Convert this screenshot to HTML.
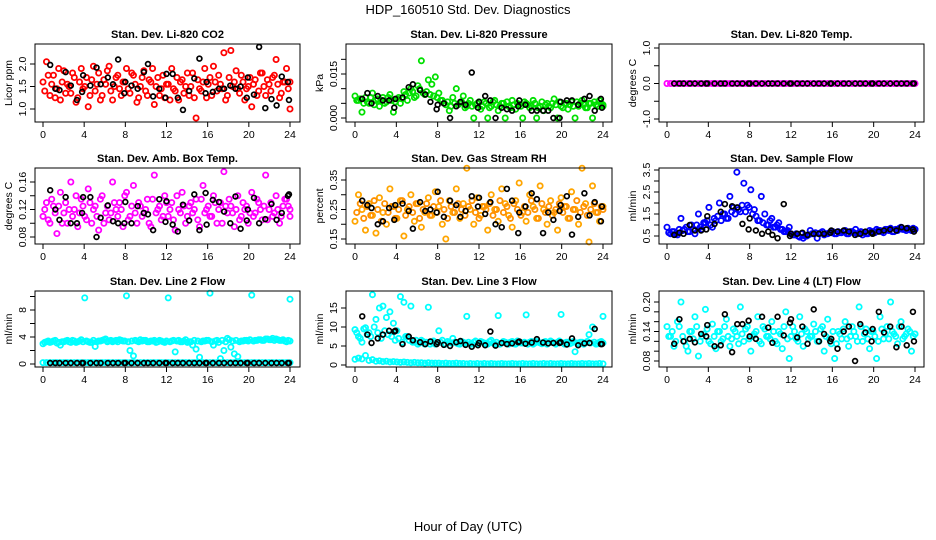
<!DOCTYPE html>
<html><head><meta charset="utf-8"><style>
html,body{margin:0;padding:0;background:#fff;}
svg{display:block;font-family:"Liberation Sans",sans-serif;}
</style></head><body>
<svg id="c" width="936" height="540" viewBox="0 0 936 540">
<text x="468" y="14" text-anchor="middle" font-size="13">HDP_160510  Std. Dev. Diagnostics</text>
<text x="468" y="531" text-anchor="middle" font-size="13">Hour of Day (UTC)</text>
</svg>
<script>
const bx=[0.7,1.2,1.6,2.2,2.7,3.3,3.8,3.9,4.6,5.2,5.6,6.3,6.8,7.3,7.9,8.0,8.6,9.2,9.8,10.2,10.7,11.3,11.9,12.0,12.6,13.1,13.6,14.2,14.7,15.2,15.8,15.9,16.5,17.1,17.6,18.2,18.7,19.2,19.8,19.9,20.5,21.0,21.6,22.2,22.7,23.2,23.8,23.9];
const co2=[1.6,2.05,1.3,1.75,1.45,1.2,1.85,1.55,1.35,1.7,1.25,1.9,1.5,1.05,1.65,1.4,1.8,1.3,1.55,1.95,1.2,1.7,1.45,1.6,1.9,1.35,1.75,1.15,1.5,1.85,1.3,1.6,1.1,1.7,1.45,1.25,1.55,1.9,1.4,1.2,1.65,1.5,1.3,1.8,0.8,1.45,1.6,1.25,1.7,1.95,1.4,1.55,2.25,1.3,2.3,1.6,1.45,1.75,1.2,1.5,1.05,1.65,1.4,1.8,1.3,1.55,1.7,2.1,1.25,1.6,1.9,1.0];
const co2b=[1.4,1.75,1.55,1.25,1.9,1.6,1.35,1.5,1.8,1.15,1.6,1.45,1.7,1.3,1.95,1.55,1.2,1.65,1.85,1.4,1.5,1.75,1.3,1.6,1.45,1.8,1.55,1.25,1.7,1.4,1.65,1.9,1.5,1.3,1.75,1.55,1.2,1.45,1.7,1.6,1.35,1.8,1.5,1.25,1.65,1.4,1.9,1.55,1.3,1.6,1.75,1.45,1.2,1.7,1.5,1.85,1.35,1.6,1.45,1.7,1.55,1.3,1.8,1.5,1.65,1.4,1.75,1.55,1.35,1.6,1.45,1.6];
const co2Blk=[1.98,1.45,1.42,1.82,1.52,1.2,1.38,1.75,1.52,1.92,1.55,1.7,1.55,2.1,1.35,1.6,1.52,1.45,1.82,2.0,1.28,1.45,1.25,1.78,1.78,1.25,0.98,1.4,1.68,2.12,1.35,1.6,1.38,1.45,1.45,1.52,1.45,1.5,1.25,1.7,1.32,2.38,1.02,1.22,1.08,1.72,1.6,1.2];
const pres=[0.0075,0.006,0.002,0.007,0.005,0.0085,0.006,0.004,0.007,0.0055,0.008,0.002,0.0065,0.005,0.009,0.006,0.01,0.007,0.011,0.0195,0.008,0.013,0.0115,0.014,0.0085,0.006,0.0045,0.0025,0.007,0.01,0.005,0.0075,0.004,0.006,0.0,0.005,0.003,0.0055,0.0,0.004,0.006,0.0025,0.005,0.0,0.004,0.006,0.003,0.0045,0.0,0.005,0.0035,0.006,0.0,0.004,0.0025,0.005,0.0035,0.0065,0.0,0.004,0.005,0.003,0.0055,0.0,0.004,0.006,0.0035,0.005,0.0,0.0045,0.006,0.004];
const presb=[0.006,0.0065,0.005,0.0055,0.007,0.0045,0.0065,0.006,0.005,0.007,0.006,0.0055,0.007,0.0065,0.008,0.0085,0.009,0.0075,0.01,0.0085,0.009,0.008,0.0075,0.007,0.006,0.005,0.0055,0.004,0.005,0.0045,0.0055,0.0035,0.005,0.004,0.0045,0.0055,0.004,0.005,0.0035,0.0055,0.0045,0.004,0.005,0.0055,0.0035,0.0045,0.005,0.004,0.0055,0.0045,0.004,0.005,0.0035,0.0055,0.0045,0.004,0.005,0.0045,0.0055,0.0035,0.005,0.0045,0.004,0.0055,0.005,0.0045,0.0035,0.005,0.0055,0.004,0.005,0.0045];
const presBlk=[0.0065,0.0085,0.005,0.0075,0.006,0.006,0.0035,0.0065,0.007,0.0105,0.0115,0.0095,0.008,0.0055,0.003,0.0045,0.005,0.0,0.004,0.0055,0.0045,0.0155,0.0035,0.0055,0.0075,0.006,0.0,0.0035,0.003,0.0025,0.004,0.006,0.0045,0.0025,0.0025,0.0025,0.0025,0.0,0.0,0.0055,0.006,0.006,0.0045,0.0065,0.0075,0.0025,0.0065,0.0035];
const ltemp=[0,0,0,0,0,0,0,0,0,0,0,0,0,0,0,0,0,0,0,0,0,0,0,0,0,0,0,0,0,0,0,0,0,0,0,0,0,0,0,0,0,0,0,0,0,0,0,0,0,0,0,0,0,0,0,0,0,0,0,0,0,0,0,0,0,0,0,0,0,0,0,0];
const ltempBlk=[0,0,0,0,0,0,0,0,0,0,0,0,0,0,0,0,0,0,0,0,0,0,0,0,0,0,0,0,0,0,0,0,0,0,0,0,0,0,0,0,0,0,0,0,0,0,0,0];
const amb=[0.11,0.13,0.1,0.125,0.085,0.145,0.115,0.1,0.16,0.12,0.095,0.135,0.11,0.15,0.1,0.125,0.09,0.14,0.115,0.105,0.16,0.12,0.13,0.095,0.145,0.11,0.155,0.1,0.125,0.115,0.135,0.095,0.17,0.12,0.105,0.14,0.11,0.13,0.09,0.12,0.145,0.1,0.125,0.115,0.135,0.095,0.155,0.12,0.11,0.14,0.1,0.13,0.175,0.115,0.125,0.095,0.14,0.11,0.12,0.1,0.145,0.115,0.13,0.105,0.17,0.12,0.11,0.14,0.1,0.125,0.135,0.11];
const ambb=[0.12,0.105,0.135,0.115,0.125,0.1,0.13,0.12,0.11,0.14,0.115,0.125,0.105,0.13,0.12,0.11,0.135,0.1,0.125,0.115,0.13,0.11,0.12,0.14,0.105,0.125,0.115,0.13,0.11,0.12,0.1,0.135,0.115,0.125,0.11,0.13,0.12,0.105,0.14,0.115,0.125,0.11,0.13,0.12,0.105,0.135,0.115,0.125,0.11,0.13,0.12,0.1,0.125,0.135,0.115,0.12,0.105,0.13,0.125,0.115,0.11,0.135,0.12,0.125,0.105,0.13,0.115,0.12,0.11,0.135,0.125,0.12];
const ambBlk=[0.148,0.12,0.105,0.138,0.1,0.1,0.115,0.138,0.138,0.08,0.108,0.126,0.103,0.1,0.1,0.131,0.1,0.125,0.115,0.113,0.09,0.135,0.102,0.132,0.098,0.088,0.127,0.104,0.142,0.09,0.144,0.098,0.134,0.131,0.117,0.1,0.139,0.092,0.104,0.12,0.137,0.1,0.106,0.128,0.105,0.115,0.14,0.142];
const rh=[0.21,0.3,0.25,0.18,0.27,0.23,0.17,0.29,0.24,0.2,0.32,0.26,0.22,0.28,0.16,0.25,0.3,0.21,0.27,0.19,0.24,0.29,0.23,0.31,0.26,0.2,0.15,0.28,0.24,0.32,0.22,0.27,0.39,0.25,0.2,0.29,0.23,0.26,0.18,0.3,0.25,0.21,0.32,0.27,0.23,0.19,0.28,0.34,0.24,0.21,0.3,0.26,0.22,0.33,0.25,0.2,0.28,0.24,0.18,0.29,0.26,0.22,0.31,0.25,0.2,0.39,0.27,0.14,0.33,0.24,0.21,0.26];
const rhb=[0.24,0.27,0.22,0.26,0.23,0.28,0.25,0.21,0.27,0.24,0.26,0.22,0.25,0.28,0.23,0.26,0.24,0.27,0.22,0.25,0.27,0.23,0.26,0.24,0.28,0.25,0.22,0.26,0.24,0.27,0.25,0.23,0.26,0.28,0.24,0.22,0.26,0.25,0.27,0.23,0.25,0.28,0.24,0.26,0.22,0.27,0.25,0.23,0.26,0.24,0.28,0.25,0.22,0.27,0.24,0.26,0.23,0.25,0.27,0.24,0.26,0.22,0.25,0.28,0.24,0.26,0.23,0.25,0.27,0.24,0.26,0.25];
const rhBlk=[0.28,0.265,0.255,0.2,0.21,0.255,0.215,0.265,0.27,0.245,0.185,0.275,0.245,0.25,0.24,0.31,0.225,0.28,0.265,0.225,0.245,0.295,0.26,0.29,0.235,0.275,0.2,0.19,0.32,0.28,0.17,0.24,0.26,0.305,0.285,0.17,0.24,0.215,0.245,0.265,0.295,0.165,0.225,0.305,0.23,0.275,0.21,0.26];
const sflow=[0.9,0.6,0.7,0.55,1.3,0.8,0.7,1.0,0.6,1.5,0.8,1.1,1.8,0.9,1.2,2.0,1.5,1.3,2.3,1.8,3.4,1.6,2.9,1.9,2.6,1.7,1.2,2.3,1.5,1.0,1.3,0.9,1.1,0.8,0.7,0.9,0.55,0.6,0.45,0.4,0.5,0.75,0.6,0.4,0.65,0.55,0.6,0.65,0.6,0.7,0.65,0.75,0.6,0.7,0.8,0.65,0.55,0.6,0.75,0.7,0.8,0.75,0.65,0.8,0.85,0.7,0.75,0.9,0.8,0.85,0.75,0.8];
const sflowb=[0.65,0.7,0.6,0.8,0.75,0.9,0.7,0.8,1.0,0.9,1.1,1.2,1.0,1.3,1.4,1.2,1.5,1.3,1.6,1.5,1.7,1.9,1.6,1.8,1.5,1.4,1.2,1.1,1.0,1.2,0.9,1.0,0.8,0.7,0.75,0.6,0.55,0.5,0.6,0.5,0.55,0.6,0.65,0.6,0.7,0.6,0.65,0.7,0.6,0.65,0.7,0.6,0.7,0.65,0.6,0.7,0.65,0.6,0.7,0.65,0.75,0.7,0.8,0.75,0.7,0.8,0.85,0.8,0.75,0.8,0.85,0.8];
const sflowBlk=[0.55,0.65,0.6,1.0,0.75,0.75,0.8,1.4,1.05,1.6,1.95,1.85,1.8,1.05,0.8,1.3,0.75,0.6,0.7,0.55,0.4,1.95,0.5,0.6,0.6,0.65,0.55,0.6,0.6,0.6,0.65,0.75,0.7,0.75,0.7,0.55,0.6,0.7,0.65,0.6,0.7,0.75,0.8,0.75,0.9,0.85,0.8,0.7];
const l2up=[3.0,3.3,3.2,3.4,3.1,2.8,3.3,3.5,3.2,3.4,3.3,3.6,9.8,3.3,3.2,2.6,3.4,3.5,3.7,3.4,3.3,3.5,3.6,3.4,10.1,2.0,1.2,3.4,3.6,3.5,3.3,3.4,3.5,3.3,3.4,3.2,9.8,3.4,1.8,3.5,3.3,3.6,3.3,2.8,2.2,1.0,3.4,3.5,10.5,2.8,3.5,0.8,2.0,3.8,2.5,1.5,1.1,3.4,3.5,3.4,10.2,3.5,3.6,3.5,3.7,3.6,3.8,3.7,3.5,3.6,3.3,9.6];
const l2upb=[3.2,3.4,3.3,3.5,3.2,3.3,3.4,3.3,3.5,3.2,3.4,3.3,3.4,3.2,3.5,3.3,3.4,3.6,3.3,3.5,3.4,3.3,3.5,3.4,3.3,3.4,3.5,3.3,3.4,3.5,3.3,3.4,3.2,3.5,3.3,3.4,3.3,3.5,3.4,3.3,3.4,3.2,3.3,3.5,3.4,3.3,3.4,3.5,3.3,3.4,3.2,3.5,3.3,3.6,3.4,3.5,3.3,3.4,3.5,3.6,3.4,3.5,3.6,3.5,3.7,3.6,3.5,3.6,3.5,3.4,3.5,3.4];
const l2low=[0.2,0.2,0.2,0.2,0.2,0.2,0.2,0.2,0.2,0.2,0.2,0.2,0.2,0.2,0.2,0.2,0.2,0.2,0.2,0.2,0.2,0.2,0.2,0.2,0.2,0.2,0.2,0.2,0.2,0.2,0.2,0.2,0.2,0.2,0.2,0.2,0.2,0.2,0.2,0.2,0.2,0.2,0.2,0.2,0.2,0.2,0.2,0.2,0.2,0.2,0.2,0.2,0.2,0.2,0.2,0.2,0.2,0.2,0.2,0.2,0.2,0.2,0.2,0.2,0.2,0.2,0.2,0.2,0.2,0.2,0.2,0.2];
const l2Blk=[0.15,0.15,0.15,0.15,0.15,0.15,0.15,0.15,0.15,0.15,0.15,0.15,0.15,0.15,0.15,0.15,0.15,0.15,0.15,0.15,0.15,0.15,0.15,0.15,0.15,0.15,0.15,0.15,0.15,0.15,0.15,0.15,0.15,0.15,0.15,0.15,0.15,0.15,0.15,0.15,0.15,0.15,0.15,0.15,0.15,0.15,0.15,0.15];
const l3up=[9.3,7.5,6.0,9.8,8.5,18.5,12.0,15.0,15.5,12.5,14.0,11.0,9.0,18.0,16.5,7.5,15.5,6.0,5.5,6.5,5.5,15.2,6.0,5.5,9.0,6.5,5.5,6.0,7.0,5.8,5.5,6.0,12.8,5.5,6.0,5.5,6.2,5.8,5.5,6.5,5.5,13.0,5.8,6.0,5.5,6.2,5.5,6.0,5.8,13.2,6.0,5.5,6.2,5.8,6.0,5.5,6.3,5.8,6.0,13.3,5.5,6.0,5.8,3.5,5.5,6.0,5.8,8.0,10.0,5.5,6.0,12.8];
const l3upb=[8.5,7.0,9.5,8.0,7.5,10,8.5,7.0,9.0,8.0,7.5,6.5,7.0,6.0,7.5,6.5,6.0,6.5,5.8,6.2,6.0,5.5,6.3,5.8,6.0,5.5,6.2,5.8,6.0,5.6,6.2,5.8,6.0,5.5,6.3,5.8,6.0,5.6,6.2,5.8,6.0,5.5,6.2,5.8,6.0,5.6,6.3,5.8,6.0,5.5,6.2,5.8,6.0,5.6,6.2,5.8,6.0,5.5,6.3,5.8,6.0,5.6,6.2,5.8,6.0,5.5,6.2,5.8,6.0,5.6,6.2,5.8];
const l3low=[1.5,1.8,1.6,2.5,1.2,1.4,1.0,1.1,0.9,1.0,0.8,0.9,0.8,0.7,0.8,0.7,0.6,0.7,0.6,0.6,0.5,0.6,0.5,0.5,0.5,0.4,0.5,0.4,0.4,0.5,0.4,0.4,0.3,0.4,0.3,0.4,0.3,0.4,0.3,0.4,0.3,0.3,0.4,0.3,0.3,0.4,0.3,0.3,0.4,0.3,0.3,0.4,0.3,0.3,0.4,0.3,0.4,0.3,0.3,0.4,0.3,0.3,0.4,0.3,0.3,0.4,0.3,0.4,0.3,0.3,0.4,0.3];
const l3Blk=[12.8,8.0,5.8,7.0,8.0,9.0,8.8,9.0,5.5,7.5,6.5,6.0,5.5,6.2,5.5,6.0,5.3,5.0,6.0,6.3,5.3,4.8,5.2,5.8,5.2,8.8,5.1,5.8,5.5,5.7,6.0,6.2,5.6,5.9,6.8,5.9,5.7,5.8,5.8,6.0,5.4,7.0,5.2,5.7,5.8,9.5,5.5,5.5];
const l4=[0.15,0.13,0.11,0.16,0.2,0.12,0.1,0.14,0.17,0.09,0.13,0.185,0.12,0.155,0.105,0.14,0.125,0.165,0.11,0.145,0.13,0.19,0.12,0.15,0.1,0.135,0.17,0.115,0.145,0.13,0.16,0.12,0.14,0.105,0.18,0.085,0.15,0.125,0.17,0.11,0.14,0.13,0.155,0.12,0.145,0.1,0.165,0.115,0.085,0.14,0.125,0.16,0.11,0.15,0.13,0.19,0.12,0.145,0.105,0.14,0.085,0.17,0.125,0.15,0.2,0.135,0.115,0.16,0.13,0.145,0.1,0.135];
const l4b=[0.13,0.14,0.12,0.15,0.13,0.11,0.14,0.125,0.15,0.12,0.135,0.145,0.115,0.13,0.14,0.12,0.15,0.13,0.125,0.14,0.115,0.135,0.145,0.125,0.13,0.14,0.12,0.15,0.13,0.125,0.14,0.115,0.135,0.15,0.125,0.13,0.14,0.12,0.135,0.145,0.125,0.13,0.14,0.12,0.15,0.13,0.125,0.14,0.115,0.135,0.145,0.125,0.13,0.14,0.12,0.15,0.135,0.125,0.14,0.13,0.12,0.145,0.135,0.125,0.14,0.13,0.15,0.125,0.135,0.14,0.13,0.135];
const l4Blk=[0.115,0.165,0.12,0.125,0.118,0.135,0.13,0.153,0.11,0.112,0.175,0.098,0.155,0.155,0.162,0.13,0.125,0.17,0.148,0.117,0.17,0.132,0.158,0.165,0.128,0.15,0.115,0.185,0.12,0.135,0.12,0.125,0.105,0.14,0.15,0.08,0.155,0.138,0.12,0.145,0.18,0.138,0.15,0.108,0.15,0.112,0.18,0.12];
const xTicks=[0,4,8,12,16,20,24];

const NS='http://www.w3.org/2000/svg';
const svg=document.getElementById('c');
function mk(tag,attrs,parent){const e=document.createElementNS(NS,tag);for(const k in attrs)e.setAttribute(k,attrs[k]);(parent||svg).appendChild(e);return e;}

const cols=[{l:35,r:300,x0:43,x24:290},{l:346,r:612,x0:355,x24:603},{l:659,r:924,x0:667,x24:915}];
const rows=[{t:44,b:122},{t:168,b:244},{t:291,b:367}];
const panels=[
 {name:'co2',title:'Stan. Dev. Li-820 CO2',ylab:'Licor ppm',c:0,r:0,v1:1.0,p1:109,v2:2.0,p2:64,ticks:[1.0,1.5,2.0],labels:['1.0','1.5','2.0'],series:[[co2,'#ff0000',0],[co2b,'#ff0000',1]],blk:co2Blk},
 {name:'pressure',title:'Stan. Dev. Li-820 Pressure',ylab:'kPa',c:1,r:0,v1:0,p1:118,v2:0.015,p2:74,ticks:[0,0.005,0.01,0.015,0.02],labels:['0.000','','','0.015',''],series:[[pres,'#00e000',0],[presb,'#00e000',1]],blk:presBlk},
 {name:'li820-temp',title:'Stan. Dev. Li-820 Temp.',ylab:'degrees C',c:2,r:0,v1:-1,p1:119,v2:1,p2:48,ticks:[-1,-0.5,0,0.5,1],labels:['-1.0','','0.0','','1.0'],series:[[ltemp,'#ff00ff',0]],blk:ltempBlk},
 {name:'amb-box-temp',title:'Stan. Dev. Amb. Box Temp.',ylab:'degrees C',c:0,r:1,v1:0.08,p1:237,v2:0.16,p2:182,ticks:[0.08,0.1,0.12,0.14,0.16],labels:['0.08','','0.12','','0.16'],series:[[amb,'#ff00ff',0],[ambb,'#ff00ff',1]],blk:ambBlk},
 {name:'gas-rh',title:'Stan. Dev. Gas Stream RH',ylab:'percent',c:1,r:1,v1:0.15,p1:239,v2:0.35,p2:180,ticks:[0.15,0.2,0.25,0.3,0.35],labels:['0.15','','0.25','','0.35'],series:[[rh,'#ffa500',0],[rhb,'#ff9000',1]],blk:rhBlk},
 {name:'sample-flow',title:'Stan. Dev. Sample Flow',ylab:'ml/min',c:2,r:1,v1:0.5,p1:236,v2:3.5,p2:170,ticks:[0.5,1,1.5,2,2.5,3,3.5],labels:['0.5','','1.5','','2.5','','3.5'],series:[[sflow,'#0000ff',0],[sflowb,'#0000ff',1]],blk:sflowBlk},
 {name:'line2-flow',title:'Stan. Dev. Line 2 Flow',ylab:'ml/min',c:0,r:2,v1:0,p1:364,v2:8,p2:310,ticks:[0,2,4,6,8,10],labels:['0','','4','','8',''],series:[[l2up,'#00ffff',0],[l2upb,'#00ffff',1],[l2low,'#00ffff',0]],blk:l2Blk},
 {name:'line3-flow',title:'Stan. Dev. Line 3 Flow',ylab:'ml/min',c:1,r:2,v1:0,p1:365,v2:15,p2:308,ticks:[0,5,10,15],labels:['0','5','10','15'],series:[[l3up,'#00ffff',0],[l3upb,'#00ffff',1],[l3low,'#00ffff',0]],blk:l3Blk},
 {name:'line4-flow',title:'Stan. Dev. Line 4 (LT) Flow',ylab:'ml/min',c:2,r:2,v1:0.08,p1:361,v2:0.2,p2:302,ticks:[0.08,0.1,0.12,0.14,0.16,0.18,0.2],labels:['0.08','','','0.14','','','0.20'],series:[[l4,'#00ffff',0],[l4b,'#00ffff',1]],blk:l4Blk}
];

panels.forEach(p=>{
 const C=cols[p.c],R=rows[p.r];
 const g=mk('g',{});
 
 
 const X=h=>C.x0+(C.x24-C.x0)*h/24;
 const Y=v=>p.p1+(p.p2-p.p1)*(v-p.v1)/(p.v2-p.v1);
 const t=mk('text',{x:(C.l+C.r)/2,y:R.t-6,'text-anchor':'middle','font-size':'11','font-weight':'bold'},g);
 t.textContent=p.title;
 
 
 p.series.forEach(s=>{
  const arr=s[0],n=arr.length,off=s[2]?0.5:0;
  arr.forEach((v,i)=>{
   const h=Math.min(24,(i+off)*24/(n-1));
   const c=mk('circle',{cx:X(h),cy:Y(v),r:2.6,fill:'none',stroke:s[1],'stroke-width':1.8},g);
   
   
  });
 });
 p.blk.forEach((v,i)=>{
  const c=mk('circle',{cx:X(bx[i]),cy:Y(v),r:2.4,fill:'none',stroke:'#000','stroke-width':1.7},g);
  
  
 });
 const box=mk('rect',{x:C.l,y:R.t,width:C.r-C.l,height:R.b-R.t,fill:'none',stroke:'#000','stroke-width':1},g);
 
 
 mk('line',{x1:X(0),x2:X(24),y1:R.b,y2:R.b,stroke:'#000'},g);
 xTicks.forEach(h=>{
  mk('line',{x1:X(h),x2:X(h),y1:R.b,y2:R.b+5,stroke:'#000'},g);
  const l=mk('text',{x:X(h),y:R.b+16,'text-anchor':'middle','font-size':'10.5'},g);
  l.textContent=h;
  
  
 });
 mk('line',{x1:C.l,x2:C.l,y1:Y(p.ticks[0]),y2:Y(p.ticks[p.ticks.length-1]),stroke:'#000'},g);
 p.ticks.forEach((v,i)=>{
  const y=Y(v);
  mk('line',{x1:C.l-5,x2:C.l,y1:y,y2:y,stroke:'#000'},g);
  if(p.labels[i]){
   const l=mk('text',{x:C.l-9,y:y,'text-anchor':'middle','font-size':'10.5',transform:`rotate(-90 ${C.l-9} ${y})`},g);
   l.textContent=p.labels[i];
   
   
  }
 });
 const yl=mk('text',{x:C.l-23,y:(R.t+R.b)/2,'text-anchor':'middle','font-size':'10.5',transform:`rotate(-90 ${C.l-23} ${(R.t+R.b)/2})`},g);
 yl.textContent=p.ylab;
 
 
});
</script>
</body></html>
